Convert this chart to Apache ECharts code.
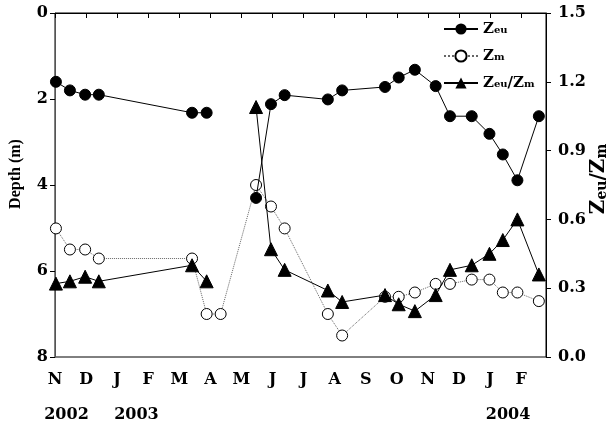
<!DOCTYPE html>
<html>
<head>
<meta charset="utf-8">
<script src="https://cdn.jsdelivr.net/npm/echarts@6/dist/echarts.min.js"></script>
<style>
  html, body { margin: 0; padding: 0; background: #fff; }
  #chart { width: 608px; height: 429px; }
</style>
</head>
<body>
<div id="chart"></div>
<script>
// Sampling dates, in months elapsed since 1 November 2002
const sampleMonths = [0.03, 0.48, 0.97, 1.41, 4.41, 4.88, 5.33, 6.47, 6.95, 7.39, 8.78,
                      9.24, 10.62, 11.06, 11.58, 12.25, 12.71, 13.41, 13.98, 14.41, 14.88, 15.57];
// Euphotic depth (m)
const zeu = [1.60, 1.80, 1.90, 1.90, 2.32, 2.32, null, 4.30, 2.12, 1.91, 2.01,
             1.80, 1.72, 1.50, 1.32, 1.70, 2.40, 2.40, 2.81, 3.29, 3.89, 2.40];
// Mixing depth (m)
const zm = [5.01, 5.50, 5.50, 5.71, 5.71, 7.00, 7.00, 4.00, 4.50, 5.01, 7.00,
            7.50, 6.60, 6.60, 6.50, 6.30, 6.30, 6.20, 6.20, 6.50, 6.50, 6.70];
// Ratio Zeu / Zm
const ratio = [0.32, 0.33, 0.35, 0.33, 0.40, 0.33, null, 1.09, 0.47, 0.38, 0.29,
               0.24, 0.27, 0.23, 0.20, 0.27, 0.38, 0.40, 0.45, 0.51, 0.60, 0.36];
// Month tick labels (Nov 2002 ... Feb 2004)
const monthLabels = ['N', 'D', 'J', 'F', 'M', 'A', 'M', 'J', 'J', 'A', 'S', 'O', 'N', 'D', 'J', 'F'];
// Year labels and where they sit along the month axis
const yearLabels = ['2002', '2003', '2004'];
const yearPositions = [0.37, 2.62, 14.58];
const depthTicks = { min: 0, max: 8, interval: 2 };
const ratioTicks = { min: 0, max: 1.5, interval: 0.3 };

const pairs = (vals) => sampleMonths.map((m, i) => [m, vals[i]]);

const tickFont = 'DejaVu Serif';
const subRich = {
  b: { fontFamily: tickFont, fontWeight: 'bold', fontSize: 15, color: '#000', verticalAlign: 'bottom', lineHeight: 20, height: 20 },
  s: { fontFamily: tickFont, fontWeight: 'bold', fontSize: 10, color: '#000', verticalAlign: 'bottom', lineHeight: 17, height: 17 }
};
const legendText = {
  'Zeu': '{b|Z}{s|eu}',
  'Zm': '{b|Z}{s|m}',
  'Zeu/Zm': '{b|Z}{s|eu}{b|/Z}{s|m}'
};

const chart = echarts.init(document.getElementById('chart'));
chart.setOption({
  animation: false,
  backgroundColor: '#fff',
  grid: {
    left: 55, right: 62, top: 13, bottom: 72,
    outerBoundsMode: 'none', containLabel: false,
    show: true, borderColor: '#000', borderWidth: 1
  },
  legend: {
    orient: 'vertical',
    left: 438,
    top: 14,
    itemWidth: 34,
    itemHeight: 14,
    itemGap: 7,
    data: ['Zeu', 'Zm', 'Zeu/Zm'],
    formatter: (n) => legendText[n],
    textStyle: { rich: subRich, height: 20, lineHeight: 20 }
  },
  xAxis: {
    type: 'value',
    min: 0,
    max: 15.8,
    interval: 1,
    splitLine: { show: false },
    axisLine: { lineStyle: { color: '#000', width: 1 } },
    axisTick: { inside: false, length: 5, lineStyle: { color: '#000' } },
    axisLabel: {
      margin: 15,
      fontFamily: tickFont, fontWeight: 'bold', fontSize: 16, color: '#000',
      formatter: (v) => (Number.isInteger(v) && monthLabels[v] !== undefined) ? monthLabels[v] : ''
    }
  },
  yAxis: [{
    type: 'value',
    inverse: true,
    min: depthTicks.min, max: depthTicks.max, interval: depthTicks.interval,
    position: 'left',
    splitLine: { show: false },
    axisLine: { show: true, lineStyle: { color: '#555', width: 1 } },
    axisTick: { inside: false, length: 5, lineStyle: { color: '#000' } },
    axisLabel: { margin: 7, fontFamily: tickFont, fontWeight: 'bold', fontSize: 16, color: '#000' }
  }, {
    type: 'value',
    min: ratioTicks.min, max: ratioTicks.max, interval: ratioTicks.interval,
    position: 'right',
    splitLine: { show: false },
    axisLine: { show: true, lineStyle: { color: '#000', width: 1 } },
    axisTick: { inside: false, length: 5, lineStyle: { color: '#000' } },
    axisLabel: {
      margin: 12, fontFamily: tickFont, fontWeight: 'bold', fontSize: 16, color: '#000',
      formatter: (v) => v.toFixed(1)
    }
  }],
  series: [{
    name: 'Zm',
    type: 'line',
    yAxisIndex: 0,
    data: pairs(zm),
    symbol: 'circle',
    symbolSize: 11,
    itemStyle: { color: '#fff', borderColor: '#000', borderWidth: 1 },
    lineStyle: { color: '#666', width: 1, type: 'dotted' },
    z: 2
  }, {
    name: 'Zeu',
    type: 'line',
    yAxisIndex: 0,
    data: pairs(zeu),
    connectNulls: false,
    symbol: 'circle',
    symbolSize: 11,
    itemStyle: { color: '#000', borderColor: '#000' },
    lineStyle: { color: '#000', width: 1 },
    z: 3
  }, {
    name: 'Zeu/Zm',
    type: 'line',
    yAxisIndex: 1,
    data: pairs(ratio),
    connectNulls: false,
    symbol: 'triangle',
    symbolSize: 13,
    itemStyle: { color: '#000', borderColor: '#000' },
    lineStyle: { color: '#000', width: 1 },
    z: 4
  }]
});

// Year captions beneath the month row, plus the two rotated axis titles
const yearY = 415;
const yearTexts = yearLabels.map((t, i) => ({
  type: 'text',
  x: chart.convertToPixel({ xAxisIndex: 0 }, yearPositions[i]),
  y: yearY,
  style: {
    text: t, fontFamily: tickFont, fontWeight: 'bold', fontSize: 16, fill: '#000',
    align: 'center', verticalAlign: 'middle'
  }
}));
const axisTitles = [{
  type: 'text',
  x: 16, y: 174,
  rotation: Math.PI / 2,
  style: {
    text: 'Depth (m)', fontFamily: 'Liberation Serif', fontWeight: 'bold', fontSize: 16, fill: '#000',
    align: 'center', verticalAlign: 'middle'
  }
}, {
  type: 'text',
  x: 597, y: 179,
  rotation: Math.PI / 2,
  style: {
    text: '{b|Z}{s|eu}{b|/Z}{s|m}',
    align: 'center', verticalAlign: 'middle',
    rich: {
      b: { fontFamily: tickFont, fontWeight: 'bold', fontSize: 20, fill: '#000', verticalAlign: 'bottom', lineHeight: 24 },
      s: { fontFamily: tickFont, fontWeight: 'bold', fontSize: 14, fill: '#000', verticalAlign: 'bottom', lineHeight: 20 }
    }
  }
}];
chart.setOption({ graphic: yearTexts.concat(axisTitles) });
</script>
</body>
</html>
